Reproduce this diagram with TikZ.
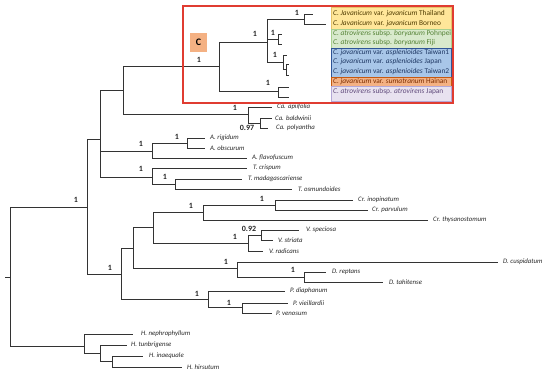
\documentclass[tikz,border=0pt]{standalone}
\usepackage{fontspec}
\setmainfont{Carlito}
\definecolor{yfill}{HTML}{FFE699}
\definecolor{ydraw}{HTML}{E6C36A}
\definecolor{ytext}{HTML}{4F3B00}
\definecolor{gfill}{HTML}{D8E9CC}
\definecolor{gdraw}{HTML}{A9D08E}
\definecolor{gtext}{HTML}{548235}
\definecolor{bfill}{HTML}{A8C6E8}
\definecolor{bdraw}{HTML}{2F5597}
\definecolor{btext}{HTML}{1F3864}
\definecolor{ofill}{HTML}{F4B183}
\definecolor{odraw}{HTML}{C55A11}
\definecolor{otext}{HTML}{7B2C00}
\definecolor{pfill}{HTML}{E8E2F0}
\definecolor{pdraw}{HTML}{B4A7D6}
\definecolor{ptext}{HTML}{604A7B}
\definecolor{redbox}{HTML}{E03C31}
\definecolor{cfill}{HTML}{F4B183}
\begin{document}
\begin{tikzpicture}[x=1pt,y=-1pt,
  br/.style={draw=black!80, line width=0.9pt},
  tip/.style={anchor=west, inner sep=0pt, font=\fontsize{6.8}{7}\selectfont\itshape, text=black!85},
  sup/.style={inner sep=0pt, font=\fontsize{8}{9}\selectfont\bfseries, text=black!85},
  lab/.style={anchor=west, inner sep=0pt, font=\fontsize{7.4}{8}\selectfont},
]
\useasboundingbox (0,0) rectangle (550,374);

% ---------- internal nodes ----------
\coordinate (rootstub) at (5,277);
\coordinate (root) at (10,277);
\coordinate (n87) at (87,207);
\coordinate (nH) at (84,346);
\coordinate (n100) at (100,139);
\coordinate (n121) at (121,274);
\coordinate (n123) at (123,90);
\coordinate (nA) at (152,151);
\coordinate (nT) at (152,177);
\coordinate (nC) at (219,66);
\coordinate (nCa) at (248,114);
\coordinate (nCa2) at (260,123);
\coordinate (nA2) at (187,143);
\coordinate (nT2) at (175,184);
\coordinate (n133) at (133,248);
\coordinate (nP) at (208,299);
\coordinate (n153) at (153,227);
\coordinate (nD) at (237,268);
\coordinate (nCr) at (203,212);
\coordinate (nV) at (248,243);
\coordinate (nCr2) at (275,205);
\coordinate (nV2) at (261,235);
\coordinate (nD2) at (304,277);
\coordinate (nP2) at (242,307);
\coordinate (nH2) at (100,353);
\coordinate (nH3) at (112,361);
% C clade
\coordinate (n267) at (267,42);
\coordinate (n278b) at (278,91);
\coordinate (n304) at (304,19);
\coordinate (n278a) at (278,39);
\coordinate (n283) at (283,62);
\coordinate (n286) at (286,69);

% ---------- tips ----------
\coordinate (api) at (272,107);
\coordinate (bal) at (272,118);
\coordinate (pol) at (268,128);
\coordinate (rig) at (205,138);
\coordinate (obs) at (205,148);
\coordinate (fla) at (247,158);
\coordinate (cri) at (247,168);
\coordinate (mad) at (242,179);
\coordinate (osm) at (292,189);
\coordinate (ino) at (353,200);
\coordinate (par) at (368,210);
\coordinate (thy) at (428,220);
\coordinate (spe) at (299,230);
\coordinate (str) at (273,240);
\coordinate (rad) at (263,251);
\coordinate (cus) at (498,262);
\coordinate (rep) at (326,272);
\coordinate (tah) at (383,282);
\coordinate (dia) at (285,291);
\coordinate (vie) at (288,303);
\coordinate (ven) at (272,313);
\coordinate (nep) at (133,334);
\coordinate (tun) at (127,345);
\coordinate (ina) at (143,356);
\coordinate (hir) at (182,367);
\coordinate (c1) at (313,14);
\coordinate (c2) at (326,24);
\coordinate (c3) at (282,34);
\coordinate (c4) at (282,44);
\coordinate (c5) at (287,55);
\coordinate (c6) at (289,64);
\coordinate (c7) at (289,75);
\coordinate (c8) at (289,87);
\coordinate (c9) at (289,97);

% ---------- branches ----------
\draw[br] (rootstub) -- (root);
\draw[br] (root) |- (n87);
\draw[br] (root) |- (nH);
\draw[br] (n87) |- (n100);
\draw[br] (n87) |- (n121);
\draw[br] (n100) |- (n123);
\draw[br] (n100) |- (nA);
\draw[br] (n100) |- (nT);
\draw[br] (n123) |- (nC);
\draw[br] (n123) |- (nCa);
\draw[br] (nCa) |- (api);
\draw[br] (nCa) |- (nCa2);
\draw[br] (nCa2) |- (bal);
\draw[br] (nCa2) |- (pol);
\draw[br] (nA) |- (nA2);
\draw[br] (nA) |- (fla);
\draw[br] (nA2) |- (rig);
\draw[br] (nA2) |- (obs);
\draw[br] (nT) |- (cri);
\draw[br] (nT) |- (nT2);
\draw[br] (nT2) |- (mad);
\draw[br] (nT2) |- (osm);
\draw[br] (n121) |- (n133);
\draw[br] (n121) |- (nP);
\draw[br] (n133) |- (n153);
\draw[br] (n133) |- (nD);
\draw[br] (n153) |- (nCr);
\draw[br] (n153) |- (nV);
\draw[br] (nCr) |- (nCr2);
\draw[br] (nCr) |- (thy);
\draw[br] (nCr2) |- (ino);
\draw[br] (nCr2) |- (par);
\draw[br] (nV) |- (nV2);
\draw[br] (nV) |- (rad);
\draw[br] (nV2) |- (spe);
\draw[br] (nV2) |- (str);
\draw[br] (nD) |- (cus);
\draw[br] (nD) |- (nD2);
\draw[br] (nD2) |- (rep);
\draw[br] (nD2) |- (tah);
\draw[br] (nP) |- (dia);
\draw[br] (nP) |- (nP2);
\draw[br] (nP2) |- (vie);
\draw[br] (nP2) |- (ven);
\draw[br] (nH) |- (nep);
\draw[br] (nH) |- (nH2);
\draw[br] (nH2) |- (tun);
\draw[br] (nH2) |- (nH3);
\draw[br] (nH3) |- (ina);
\draw[br] (nH3) |- (hir);
% C clade
\draw[br] (nC) |- (n267);
\draw[br] (nC) |- (n278b);
\draw[br] (n267) |- (n304);
\draw[br] (n267) |- (n278a);
\draw[br] (n267) |- (n283);
\draw[br] (n304) |- (c1);
\draw[br] (n304) |- (c2);
\draw[br] (n278a) |- (c3);
\draw[br] (n278a) |- (c4);
\draw[br] (n283) |- (c5);
\draw[br] (n283) |- (n286);
\draw[br] (n286) |- (c6);
\draw[br] (n286) |- (c7);
\draw[br] (n278b) |- (c8);
\draw[br] (n278b) |- (c9);

% ---------- tip labels ----------
\node[tip] (l-api) at ([xshift=5pt]api) {Ca. apiifolia};
\node[tip] (l-bal) at ([xshift=3pt]bal) {Ca. baldwinii};
\node[tip] (l-pol) at ([xshift=8pt]pol) {Ca. polyantha};
\node[tip] (l-rig) at ([xshift=5pt]rig) {A. rigidum};
\node[tip] (l-obs) at ([xshift=5pt]obs) {A. obscurum};
\node[tip] (l-fla) at ([xshift=5pt]fla) {A. flavofuscum};
\node[tip] (l-cri) at ([xshift=6pt]cri) {T. crispum};
\node[tip] (l-mad) at ([xshift=6pt]mad) {T. madagascariense};
\node[tip] (l-osm) at ([xshift=6pt]osm) {T. osmundoides};
\node[tip] (l-ino) at ([xshift=5pt]ino) {Cr. inopinatum};
\node[tip] (l-par) at ([xshift=4pt]par) {Cr. parvulum};
\node[tip] (l-thy) at ([xshift=5pt]thy) {Cr. thysanostomum};
\node[tip] (l-spe) at ([xshift=7pt]spe) {V. speciosa};
\node[tip] (l-str) at ([xshift=5pt]str) {V. striata};
\node[tip] (l-rad) at ([xshift=6pt]rad) {V. radicans};
\node[tip] (l-cus) at ([xshift=5pt]cus) {D. cuspidatum};
\node[tip] (l-rep) at ([xshift=6pt]rep) {D. reptans};
\node[tip] (l-tah) at ([xshift=6pt]tah) {D. tahitense};
\node[tip] (l-dia) at ([xshift=5pt]dia) {P. diaphanum};
\node[tip] (l-vie) at ([xshift=5pt]vie) {P. vieillardii};
\node[tip] (l-ven) at ([xshift=4pt]ven) {P. venosum};
\node[tip] (l-nep) at ([xshift=8pt]nep) {H. nephrophyllum};
\node[tip] (l-tun) at ([xshift=4pt]tun) {H. tunbrigense};
\node[tip] (l-ina) at ([xshift=6pt]ina) {H. inaequale};
\node[tip] (l-hir) at ([xshift=5pt]hir) {H. hirsutum};

% ---------- support values ----------
\node[sup] (s1) at (76,200) {1};
\node[sup] (s2) at (110,268) {1};
\node[sup] (s3) at (141,144) {1};
\node[sup] (s4) at (177,137) {1};
\node[sup] (s5) at (141,169) {1};
\node[sup] (s6) at (165,177) {1};
\node[sup] (s7) at (235,108) {1};
\node[sup] (s8) at (247,128) {0.97};
\node[sup] (s9) at (199,60) {1};
\node[sup] (s10) at (255,34) {1};
\node[sup] (s11) at (297,13) {1};
\node[sup] (s12) at (273,33) {1};
\node[sup] (s13) at (275,55) {1};
\node[sup] (s14) at (268,83) {1};
\node[sup] (s15) at (191,206) {1};
\node[sup] (s16) at (262,199) {1};
\node[sup] (s17) at (235,237) {1};
\node[sup] (s18) at (249,229) {0.92};
\node[sup] (s19) at (226,262) {1};
\node[sup] (s20) at (293,270) {1};
\node[sup] (s21) at (197,294) {1};
\node[sup] (s22) at (229,303) {1};

% ---------- clade C box ----------
\fill[yfill, draw=ydraw, line width=0.5pt] (331,7) rectangle (451,29);
\fill[gfill, draw=gdraw, line width=0.5pt] (331,29) rectangle (451,48);
\fill[bfill, draw=bdraw, line width=0.6pt] (331,48) rectangle (451,77);
\fill[ofill, draw=odraw, line width=0.5pt] (331,77) rectangle (451,86);
\fill[pfill, draw=pdraw, line width=0.5pt] (331,86) rectangle (451,101);

\node[lab, text=ytext] (t1) at (333,13.5) {\textit{C. Javanicum} var. \textit{javanicum} Thailand};
\node[lab, text=ytext] (t2) at (333,24) {\textit{C. Javanicum} var. \textit{javanicum} Borneo};
\node[lab, text=gtext] (t3) at (333,34) {\textit{C. atrovirens} subsp. \textit{boryanum} Pohnpei};
\node[lab, text=gtext] (t4) at (333,43) {\textit{C. atrovirens} subsp. \textit{boryanum} Fiji};
\node[lab, text=btext] (t5) at (333,53) {\textit{C. javanicum} var. \textit{asplenioides} Taiwan1};
\node[lab, text=btext] (t6) at (333,62) {\textit{C. javanicum} var. \textit{asplenioides} Japan};
\node[lab, text=btext] (t7) at (333,71.5) {\textit{C. javanicum} var. \textit{asplenioides} Taiwan2};
\node[lab, text=otext] (t8) at (333,81.5) {\textit{C. javanicum} var. \textit{sumatranum} Hainan};
\node[lab, text=ptext] (t9) at (333,92) {\textit{C. atrovirens} subsp. \textit{atrovirens} Japan};

\node[fill=cfill, minimum width=17pt, minimum height=19pt, inner sep=0pt,
      font=\fontsize{10}{12}\selectfont\bfseries] (Clab) at (198.5,42.5) {C};

\draw[redbox, line width=1.1pt] (183,6) rectangle (453,103);
\end{tikzpicture}
\end{document}
